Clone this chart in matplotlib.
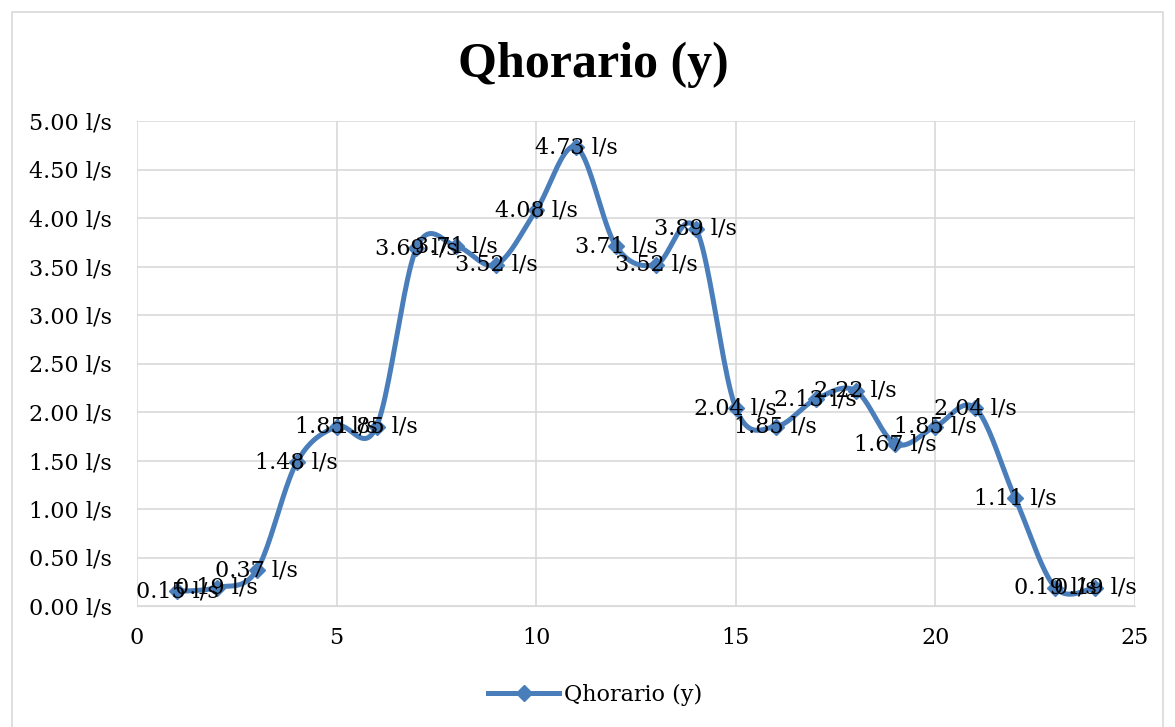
import matplotlib.pyplot as plt
import numpy as np
from matplotlib.patches import Rectangle
from matplotlib.ticker import FuncFormatter, MultipleLocator

hours = list(range(1, 25))
caudal = [0.15, 0.19, 0.37, 1.48, 1.85, 1.85, 3.69, 3.71, 3.52, 4.08, 4.73, 3.71,
          3.52, 3.89, 2.04, 1.85, 2.13, 2.22, 1.67, 1.85, 2.04, 1.11, 0.19, 0.19]
series_name = "Qhorario (y)"

plt.rcParams['font.family'] = ['DejaVu Serif']
blue = "#4A7EBB"
fs = 16


def smooth(xs, ys, n=24):
    # Catmull-Rom curve through the points, like Excel's smoothed line
    x = np.asarray(xs, float)
    y = np.asarray(ys, float)
    px = np.concatenate([[x[0]], x, [x[-1]]])
    py = np.concatenate([[y[0]], y, [y[-1]]])
    out_x, out_y = [], []
    t = np.linspace(0, 1, n)
    for i in range(1, len(px) - 2):
        for arr, out in ((px, out_x), (py, out_y)):
            p0, p1, p2, p3 = arr[i - 1], arr[i], arr[i + 1], arr[i + 2]
            out.extend(0.5 * (2 * p1 + (-p0 + p2) * t
                              + (2 * p0 - 5 * p1 + 4 * p2 - p3) * t ** 2
                              + (-p0 + 3 * p1 - 3 * p2 + p3) * t ** 3))
    return out_x, out_y


fig = plt.figure(figsize=(11.75, 7.27), dpi=100)
ax = fig.add_axes([137 / 1175, 1 - 606 / 727, (1135 - 137) / 1175, (606 - 121) / 727])

sx, sy = smooth(hours, caudal)
ax.plot(sx, sy, color=blue, linewidth=3.6, solid_capstyle='round', zorder=3)
ax.plot(hours, caudal, linestyle='none', marker='D', markersize=8,
        color=blue, zorder=4)

for h, v in zip(hours, caudal):
    ax.text(h, v, f"{v:.2f} l/s", ha='center', va='center', fontsize=fs,
            color='black', zorder=5)

ax.set_xlim(0, 25)
ax.set_ylim(0, 5)
ax.xaxis.set_major_locator(MultipleLocator(5))
ax.yaxis.set_major_locator(MultipleLocator(0.5))
ax.yaxis.set_major_formatter(FuncFormatter(lambda v, _: f"{v:.2f} l/s"))
ax.grid(True, color='#D9D9D9', linewidth=1.2)
ax.set_axisbelow(True)
for s in ax.spines.values():
    s.set_visible(False)
ax.spines['bottom'].set_visible(True)
ax.spines['bottom'].set_color('#D9D9D9')
ax.tick_params(axis='y', length=0, labelsize=fs, pad=18)
ax.tick_params(axis='x', length=0, labelsize=fs, pad=15)

fig.text(593 / 1175, 1 - 65 / 727, series_name, ha='center', va='center',
         fontsize=36, fontweight='bold', family=['Liberation Serif'])

handle = plt.Line2D([], [], color=blue, linewidth=3.6, marker='D', markersize=8)
ax.legend(handles=[handle], labels=[series_name], loc='center',
          bbox_to_anchor=(595 / 1175, 1 - 695 / 727), bbox_transform=fig.transFigure,
          frameon=False, fontsize=fs, handlelength=3.2, handletextpad=0.2)

fig.patches.append(Rectangle((12 / 1175, -0.01), 1151 / 1175, 1 - 12 / 727 + 0.01,
                             transform=fig.transFigure, fill=False,
                             edgecolor='#D9D9D9', linewidth=1.2))

fig.savefig("out.png", dpi=100, facecolor='white')
